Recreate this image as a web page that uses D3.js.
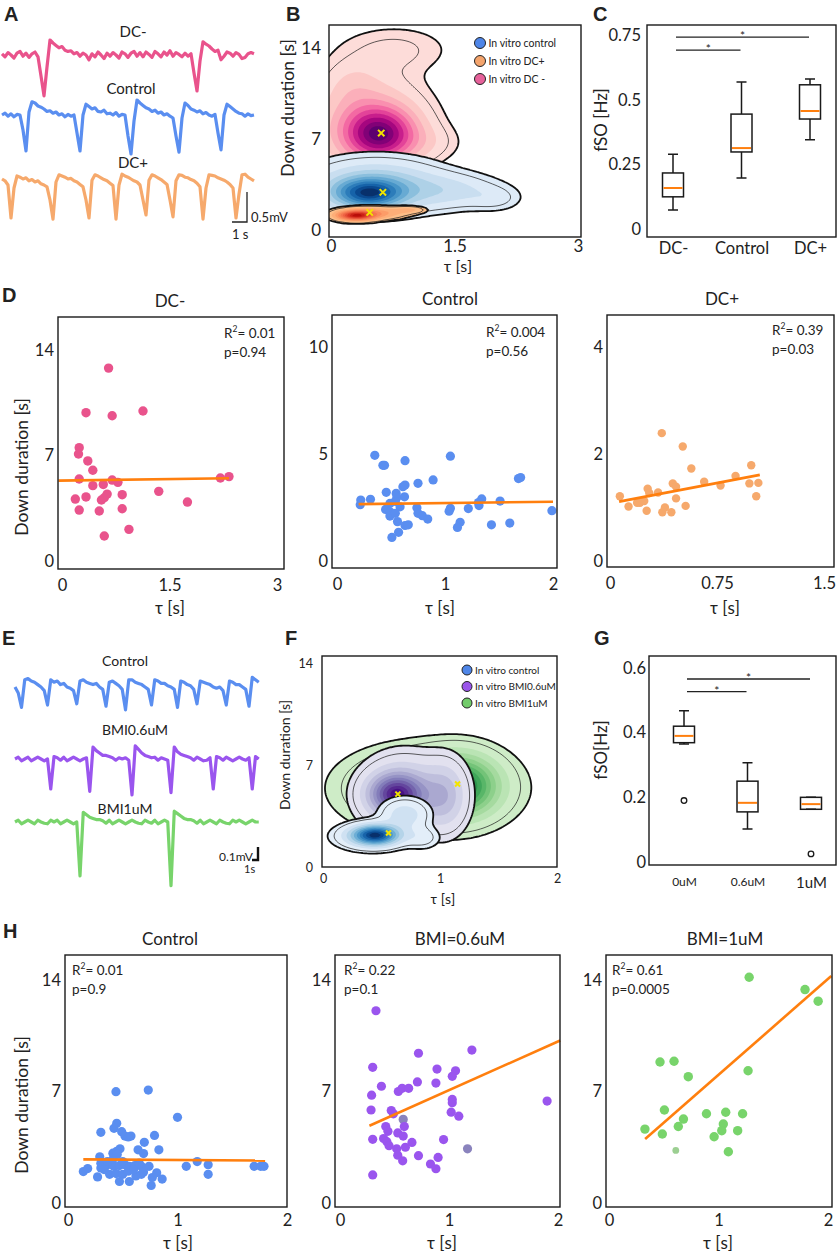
<!DOCTYPE html>
<html><head><meta charset="utf-8">
<script src="https://cdn.jsdelivr.net/npm/d3@7"></script>
<style>
body{margin:0;background:#fff}
svg text{font-family:Lato,"Open Sans",sans-serif;fill:#222}
.lett{font-family:"Liberation Sans",Arial,sans-serif;font-weight:bold;font-size:20px}
</style></head><body>
<svg id="fig" width="837" height="1252"></svg>
<script>
// ---- traces (mV, fixed sample step) ----
const aDcm = [0.02,-0.03,0.04,0,-0.05,0.03,0.06,-0.02,0.03,-0.04,0.02,0.05,-0.03,-0.35,-0.68,-0.2,0.25,0.2,0.16,0.12,0.14,0.08,0.06,0.07,0.02,0.04,-0.02,0.03,0,-0.08,0.02,-0.03,0.05,0,-0.06,0.03,-0.02,0.04,0,-0.05,0.05,0.02,-0.04,0.03,0.06,-0.02,0.04,-0.03,0.05,0.01,-0.04,0.06,0.02,-0.03,0.05,0,0.07,-0.02,0.04,0.01,-0.03,0.03,-0.02,0.02,-0.3,-0.6,-0.1,0.22,0.18,0.15,0.1,0.06,0.08,-0.08,-0.02,0.05,0.03,-0.02,0.04,0.01,-0.06,-0.04,0.02,0.04,0.02];
const aCtl = [0,0.03,-0.02,0.02,-0.03,0.01,0,-0.25,-0.6,0.05,0.22,0.2,0.15,0.13,0.1,0.06,0.07,0.03,0.05,0,0.02,-0.03,0.01,-0.02,0,-0.3,-0.6,0,0.18,0.14,0.1,0.12,0.06,0.05,0.08,0.02,0.03,0,0.04,-0.02,0.01,0,-0.35,-0.65,-0.1,0.25,0.2,0.16,0.12,0.1,0.06,0.08,0.03,0.05,0,0.02,-0.02,-0.05,-0.35,-0.62,-0.05,0.2,0.16,0.1,0.08,0.05,0.07,0.02,0.04,0,-0.02,0.01,-0.3,-0.58,0,0.18,0.14,0.1,0.06,0.03,0.02,-0.02,0.02,-0.01,0];
const aDcp = [0.05,0.02,-0.05,-0.6,-0.1,0.1,0.08,0.05,0.07,0.02,0.04,0,0.02,-0.03,-0.05,-0.08,-0.3,-0.62,0,0.12,0.1,0.08,0.05,0.06,0.02,0,-0.04,-0.08,-0.3,-0.6,0.03,0.12,0.1,0.07,0.04,0.02,-0.02,-0.06,-0.62,-0.05,0.13,0.1,0.08,0.05,0.02,0,-0.05,-0.3,-0.55,0.03,0.12,0.1,0.07,0.04,0,-0.04,-0.3,-0.58,0.02,0.12,0.11,0.08,0.07,0.04,0.02,-0.02,-0.08,-0.62,-0.1,0.12,0.11,0.1,0.07,0.05,0.03,0,-0.04,-0.1,-0.6,-0.2,0.12,0.13,0.08,0.05,0.02];
const eCtl = [0,-0.05,-0.17,0.06,0.07,0.05,0.04,0.02,0,-0.03,-0.15,0.06,0.04,0.05,0.02,0.03,0,-0.01,-0.03,-0.14,0.05,0.06,0.04,0.03,0.02,0.03,0,-0.02,-0.16,0.04,0.05,0.03,0.01,-0.02,-0.19,0.06,0.06,0.04,0.03,0.02,0,-0.02,-0.15,0.06,0.05,0.03,0.03,0.01,0,-0.02,-0.17,0.05,0.04,0.02,0.01,-0.02,-0.14,0.05,0.04,0.03,0.02,0,-0.01,0,-0.03,-0.15,0.05,0.04,0.02,0.02,0,-0.02,-0.16,0.08,0.06,0.04];
const eBmi06 = [0,0.015,-0.015,0,0.015,-0.015,0,0.015,0,-0.015,0,-0.25,0.02,0.01,-0.01,0.015,-0.015,0,0.015,0,-0.015,0,0.01,-0.27,0.1,0.07,0.05,0.03,0.03,0.02,0.01,-0.01,0.01,0,0.01,-0.01,-0.3,0.11,0.08,0.05,0.03,0.02,0.01,0.015,-0.01,0.01,0,-0.01,-0.28,0.1,0.06,0.04,0.03,0.02,0.01,-0.01,0.015,0,-0.015,-0.01,0.01,-0.25,0.02,0.01,-0.01,0.015,0,-0.015,0,0.015,0,-0.01,0.01,-0.25,0.02,0];
const eBmi1 = [0,0.015,-0.015,0,0.015,0,-0.015,0.015,0,-0.01,-0.015,0.015,0,0.015,-0.015,0,0.015,0,-0.015,0,-0.45,0.08,0.06,0.04,0.03,0.02,0.02,0.01,-0.01,0.015,-0.015,0,0.015,0,-0.015,0,0.015,0,-0.01,-0.015,0.015,0,-0.01,0.015,-0.015,0,0.015,0,-0.53,0.09,0.07,0.05,0.03,0.02,0.02,0.01,-0.01,0.015,-0.015,0,0.015,0,-0.015,0.015,0,-0.01,-0.015,0.015,0,0.015,0,-0.015,0,0.015,0,0];

// ---- D: tau [s], down duration [s] ----
const dcmPts = [[0.65,12.8],[0.335,9.84],[0.70,9.64],[1.13,9.95],[0.24,7.52],[0.23,7.1],[0.36,6.64],[0.43,6.02],[0.24,5.44],[0.43,5.0],[0.576,5.08],[0.70,5.37],[0.78,5.22],[0.186,4.11],[0.335,4.25],[0.55,4.05],[0.59,4.2],[0.63,4.44],[0.84,4.4],[0.24,3.38],[0.52,3.32],[0.84,3.47],[0.934,2.1],[0.59,1.66],[1.35,4.62],[1.75,3.91],[2.21,5.51],[2.33,5.6]];
const dcmFit = [[-0.05,5.33],[2.33,5.49]];
const ctlPts = [[0.35,4.94],[0.425,4.47],[0.44,4.47],[0.63,4.69],[1.05,4.9],[0.215,2.63],[0.22,2.85],[0.31,2.88],[0.456,3.21],[0.548,3.16],[0.554,2.97],[0.54,2.78],[0.49,2.69],[0.584,2.53],[0.45,2.41],[0.49,2.3],[0.49,2.1],[0.54,2.23],[0.56,1.84],[0.57,1.34],[0.508,1.1],[0.63,1.66],[0.66,1.69],[0.625,3.0],[0.61,3.47],[0.63,3.55],[0.75,3.63],[0.89,3.79],[0.74,2.49],[0.75,2.23],[0.79,2.12],[0.84,1.96],[1.038,2.33],[1.05,2.46],[1.14,1.81],[1.115,1.57],[1.216,2.45],[1.315,2.59],[1.34,2.9],[1.31,2.73],[1.51,2.8],[1.43,1.69],[1.6,1.77],[1.68,3.85],[1.7,3.9],[1.99,2.35]];
const ctlFit = [[0.2,2.66],[2.0,2.77]];
const dcpPts = [[0.363,2.39],[0.51,2.14],[0.57,1.73],[0.99,1.79],[0.88,1.59],[0.66,1.48],[0.775,1.41],[0.977,1.45],[1.04,1.46],[1.025,1.21],[0.069,1.21],[0.13,1.02],[0.19,1.09],[0.21,1.09],[0.24,1.12],[0.264,1.35],[0.275,1.27],[0.337,1.28],[0.257,0.94],[0.367,0.91],[0.385,1.0],[0.43,0.91],[0.44,1.45],[0.463,1.39],[0.463,1.17],[0.53,1.03]];
const dcpFit = [[0.064,1.11],[1.05,1.61]];
const dStats = [["0.01","0.94"],["0.004","0.56"],["0.39","0.03"]];

// ---- H ----
const hCtlPts = [[0.438,6.99],[0.733,7.09],[1.0,5.38],[0.445,5.0],[0.42,4.69],[0.3,4.44],[0.49,4.48],[0.52,4.2],[0.575,4.2],[0.55,4.15],[0.79,4.24],[0.697,3.81],[0.475,3.4],[0.445,3.25],[0.64,3.34],[0.69,3.1],[0.83,3.34],[0.41,3.13],[0.45,3.05],[0.29,2.9],[0.14,1.97],[0.18,2.16],[0.27,1.64],[0.3,2.2],[0.35,2.35],[0.4,2.4],[0.42,2.3],[0.47,2.35],[0.52,2.4],[0.56,2.3],[0.61,2.35],[0.67,2.3],[0.74,2.3],[0.38,1.8],[0.44,1.85],[0.5,1.8],[0.47,1.35],[0.56,1.35],[0.62,1.7],[0.67,1.8],[0.69,1.95],[0.77,1.6],[0.81,1.9],[0.76,1.1],[0.86,1.5],[1.08,2.3],[1.18,2.6],[1.28,2.4],[1.28,1.8],[1.7,2.3],[1.76,2.3],[1.79,2.3],[0.3,2.5],[0.36,2.6],[0.41,2.75],[0.33,2.1],[0.55,2.0],[0.6,2.1],[0.5,2.6],[0.65,2.5]];
const hCtlFit = [[0.14,2.74],[1.8,2.66]];
const hB06Pts = [[0.33,12.07],[0.72,9.4],[1.21,9.6],[0.30,8.52],[0.89,8.41],[1.06,8.3],[1.03,7.95],[0.88,7.53],[0.71,7.6],[0.38,7.33],[0.29,6.77],[0.535,7.0],[0.57,7.2],[0.63,7.2],[1.03,6.5],[1.03,6.3],[0.285,5.84],[0.47,5.8],[0.49,5.6],[1.02,5.7],[1.09,5.45],[0.42,4.8],[0.44,4.5],[0.59,4.8],[0.53,4.4],[0.58,4.2],[0.30,4.0],[0.40,4.05],[0.43,3.85],[0.45,3.6],[0.52,3.4],[0.6,3.5],[0.66,3.8],[0.95,3.98],[0.53,3.0],[0.575,2.65],[0.72,2.97],[0.9,2.86],[0.83,2.45],[0.88,2.15],[0.30,1.76],[1.9,6.4]];
const hB06Grey = [[0.58,5.25],[1.17,3.4]];
const hB06Fit = [[0.27,4.85],[2.02,10.2]];
const hB1Pts = [[1.28,14.17],[1.79,13.4],[1.91,12.67],[0.466,8.85],[0.594,8.9],[0.724,7.93],[1.27,8.3],[0.506,5.84],[0.68,5.27],[0.633,4.8],[0.89,5.6],[1.066,5.7],[1.22,5.6],[1.044,4.96],[1.03,4.54],[1.175,4.54],[0.96,4.16],[1.09,3.22],[0.328,4.64],[0.487,4.33]];
const hB1Faint = [[0.61,3.3]];
const hB1Fit = [[0.33,4.02],[2.03,14.25]];
const hStats = [["0.01","0.9"],["0.22","0.1"],["0.61","0.0005"]];

// ---- box plots ----
const cCats = ["DC-","Control","DC+"];
const cLo = [0.075,0.199,0.346], cQ1 = [0.126,0.299,0.426], cMed = [0.16,0.314,0.457], cQ3 = [0.218,0.445,0.558], cHi = [0.29,0.569,0.58];
const cSig = [["DC-","Control",0.692],["DC-","DC+",0.742]];
const gCats = ["0uM","0.6uM","1uM"];
const gLo = [0.365,0.102,0.163], gQ1 = [0.369,0.155,0.163], gMed = [0.39,0.183,0.179], gQ3 = [0.42,0.25,0.2], gHi = [0.468,0.307,0.2];
const gOut = [["0uM",0.19],["1uM",0.025]];
const gSig = [["0uM","0.6uM",0.527],["0uM","1uM",0.566]];

// ---- density blobs: [tau, dur, sdTau, sdDur, weight] ----
const bDcmBlobs = [[0.6,7.3,0.3,1.4,1],[0.45,8.3,0.42,2.3,0.45],[0.78,13.9,0.42,1.15,0.13],[0.25,11.3,0.22,1.3,0.12],[1.2,6.7,0.25,0.9,0.1]];
const bCtlBlobs = [[0.45,2.8,0.28,0.75,1],[0.55,3.4,0.5,1.25,0.55],[1.45,3.0,0.4,0.85,0.25],[2.0,2.4,0.2,0.6,0.12]];
const bDcpBlobs = [[0.3,1.1,0.15,0.25,1],[0.5,1.3,0.25,0.3,0.4],[0.95,1.55,0.13,0.18,0.2]];
const fB1Blobs = [[1.18,5.6,0.2,1.3,1],[0.88,5.4,0.4,1.6,0.6]];
const fB06Blobs = [[0.62,5.0,0.15,0.9,1],[0.7,5.0,0.22,1.6,0.5],[1.05,4.9,0.12,1.5,0.4]];
const fCtlBlobs = [[0.45,2.2,0.13,0.45,1],[0.4,2.1,0.18,0.55,0.35],[0.7,3.6,0.13,0.7,0.3],[0.85,2.0,0.1,0.5,0.15]];
const bMarks = [[0.61,7.46],[0.63,2.9],[0.47,1.35]];
const fMarks = [[1.15,5.7],[0.64,5.0],[0.56,2.33]];
const kdeLevels = [0.04,0.08,0.16,0.26,0.36,0.46,0.56,0.66,0.76,0.86,0.94];

const col = {dcm:"#e9538c", ctl:"#5a8ef0", dcp:"#f6a96c", b06:"#9a55ee", b1:"#78d46b", fit:"#ff7f0e"};
const fam = "Lato, 'Open Sans', sans-serif";

const svg = d3.select("#fig");
svg.append("rect").attr("width",837).attr("height",1252).attr("fill","#fff");

function txt(x, y, s, size, anchor = "middle", g = svg) {
  return g.append("text").attr("x", x).attr("y", y).attr("font-size", size).attr("text-anchor", anchor).text(s);
}
function vtxt(x, y, s, size) {
  return svg.append("text").attr("transform", `translate(${x},${y}) rotate(-90)`)
    .attr("font-size", size).attr("text-anchor", "middle").text(s);
}
function frame(g, f) {
  g.append("rect").attr("x", f.l).attr("y", f.t).attr("width", f.r - f.l).attr("height", f.b - f.t)
    .attr("fill", "none").attr("stroke", "#1a1a1a").attr("stroke-width", 1.4);
}
function axes(g, xs, ys, f, xt, yt, fs, xpad, ypad) {
  const ax = g.append("g").attr("transform", `translate(0,${f.b})`)
    .call(d3.axisBottom(xs).tickValues(xt).tickSize(0).tickPadding(xpad).tickFormat(d => d));
  const ay = g.append("g").attr("transform", `translate(${f.l},0)`)
    .call(d3.axisLeft(ys).tickValues(yt).tickSize(0).tickPadding(ypad).tickFormat(d => d));
  [ax, ay].forEach(a => {
    a.select(".domain").remove();
    a.attr("font-size", fs).attr("font-family", fam).attr("color", "#222");
  });
  return ax;
}

// ---------- traces ----------
function trace(vals, dt, x0, pxPerS, yBase, pxPerMv, color) {
  const xs = d3.scaleLinear().domain([0, 1]).range([x0, x0 + pxPerS]);
  const ys = d3.scaleLinear().domain([0, 1]).range([yBase, yBase - pxPerMv]);
  svg.append("path").datum(vals)
    .attr("d", d3.line().x((d, i) => xs(i * dt)).y(d => ys(d)))
    .attr("fill", "none").attr("stroke", color).attr("stroke-width", 3.2)
    .attr("stroke-linejoin", "round");
}
trace(aDcm, 0.2, 2, 15, 55, 60, col.dcm);
trace(aCtl, 0.2, 2, 15, 115, 60, col.ctl);
trace(aDcp, 0.2, 2, 15, 182, 60, col.dcp);
txt(133, 37, "DC-", 15); txt(131, 94, "Control", 15); txt(133, 168, "DC+", 15);
svg.append("path").attr("d", "M232,222H247V192").attr("fill", "none").attr("stroke", "#222").attr("stroke-width", 1.3);
txt(251, 222, "0.5mV", 13, "start"); txt(232, 239, "1 s", 13, "start");

trace(eCtl, 0.5, 15, 6.5, 687, 120, col.ctl);
trace(eBmi06, 0.5, 15, 6.5, 759, 120, col.b06);
trace(eBmi1, 0.5, 15, 6.5, 822, 120, col.b1);
txt(125, 666, "Control", 14); txt(135, 735, "BMI0.6uM", 14); txt(125, 814, "BMI1uM", 14);
svg.append("path").attr("d", "M252,860H258V847").attr("fill", "none").attr("stroke", "#111").attr("stroke-width", 2.4);
txt(219, 861, "0.1mV", 12, "start"); txt(244, 873, "1s", 11, "start");

// ---------- densities ----------
function densityLayer(g, f, xs, ys, blobs, interp, t0, t1) {
  const step = 2, pad = 12;
  const X0 = f.l - pad, Y0 = f.t - pad;
  const n = Math.ceil((f.r - f.l + 2 * pad) / step), m = Math.ceil((f.b - f.t + 2 * pad) / step);
  const vals = new Array(n * m);
  for (let j = 0; j < m; j++) for (let i = 0; i < n; i++) {
    const tau = xs.invert(X0 + (i + 0.5) * step), dur = ys.invert(Y0 + (j + 0.5) * step);
    let s = 0;
    blobs.forEach(b => { s += b[4] * Math.exp(-0.5 * (((tau - b[0]) / b[2]) ** 2 + ((dur - b[1]) / b[3]) ** 2)); });
    vals[j * n + i] = s;
  }
  const mx = d3.max(vals);
  const cs = d3.contours().size([n, m]).thresholds(kdeLevels)(vals.map(v => v / mx));
  const path = d3.geoPath(d3.geoTransform({ point(x, y) { this.stream.point(X0 + x * step, Y0 + y * step); } }));
  const L = kdeLevels.length;
  g.selectAll(null).data(cs).join("path").attr("d", path)
    .attr("fill", (d, k) => interp(k < 2 ? t0 : t0 + (t1 - t0) * (k - 1) / (L - 2)));
  g.append("path").datum(cs[1]).attr("d", path).attr("fill", "none").attr("stroke", "#1a1a1a").attr("stroke-width", 0.7);
  g.append("path").datum(cs[0]).attr("d", path).attr("fill", "none").attr("stroke", "#111").attr("stroke-width", 1.8);
}
function legend(x, y, dy, items, fs, r) {
  items.forEach((it, i) => {
    svg.append("circle").attr("cx", x).attr("cy", y + i * dy).attr("r", r).attr("fill", it[1]).attr("stroke", "#222").attr("stroke-width", 1);
    txt(x + r + 3, y + i * dy + fs * 0.36, it[0], fs, "start");
  });
}
function densityPanel(o) {
  const g = svg.append("g");
  const xs = d3.scaleLinear().domain([0, o.xt[o.xt.length - 1]]).range(o.xr);
  const ys = d3.scaleLinear().domain([0, o.yt[o.yt.length - 1]]).range(o.yr);
  svg.append("clipPath").attr("id", o.id).append("rect")
    .attr("x", o.f.l).attr("y", o.f.t).attr("width", o.f.r - o.f.l).attr("height", o.f.b - o.f.t);
  const inner = g.append("g").attr("clip-path", `url(#${o.id})`);
  o.layers.forEach(L => densityLayer(inner.append("g"), o.f, xs, ys, L[0], L[1], L[2], L[3]));
  inner.selectAll(null).data(o.marks).join("path")
    .attr("transform", d => `translate(${xs(d[0])},${ys(d[1])})`)
    .attr("d", d3.symbol().type(d3.symbolX).size(o.mark))
    .attr("fill", "none").attr("stroke", "#f3e500").attr("stroke-width", 2);
  axes(g, xs, ys, o.f, o.xt, o.yt, o.fs, o.xpad, o.ypad);
  frame(g, o.f);
}
densityPanel({id: "clipB", f: {l: 329, t: 25, r: 581, b: 237}, xr: [331, 578], yr: [230, 48],
  xt: [0, 1.5, 3], yt: [0, 7, 14], fs: 17, xpad: 3, ypad: 8, mark: 28,
  layers: [[bDcmBlobs, d3.interpolateRdPu, 0.14, 0.95], [bCtlBlobs, d3.interpolateBlues, 0.13, 1.0], [bDcpBlobs, d3.interpolateOrRd, 0.35, 0.85]],
  marks: bMarks});
legend(480, 43, 18, [["In vitro control", "#4f86e8"], ["In vitro DC+", "#f4a46c"], ["In vitro DC -", "#e6619a"]], 10.5, 5.5);
vtxt(294, 108, "Down duration [s]", 17.5);
txt(458, 272, "τ [s]", 16);

densityPanel({id: "clipF", f: {l: 322, t: 656, r: 557, b: 867}, xr: [323, 557], yr: [867, 663],
  xt: [0, 1, 2], yt: [0, 7, 14], fs: 12.5, xpad: 7.5, ypad: 9, mark: 18,
  layers: [[fB1Blobs, d3.interpolateGreens, 0.22, 0.85], [fB06Blobs, d3.interpolatePurples, 0.2, 0.95], [fCtlBlobs, d3.interpolateBlues, 0.1, 1.0]],
  marks: fMarks});
legend(467, 670, 16.5, [["In vitro control", "#4f86e8"], ["In vitro BMI0.6uM", "#9a55ea"], ["In vitro BMI1uM", "#72cc6a"]], 10, 5);
vtxt(290, 755, "Down duration [s]", 14);
txt(443, 904, "τ [s]", 14);

// ---------- box plots ----------
function boxPanel(o) {
  const g = svg.append("g");
  const xs = d3.scalePoint().domain(o.cats).range(o.xr);
  const ys = d3.scaleLinear().domain(o.yd).range(o.yr);
  const ax = axes(g, xs, ys, o.f, o.cats, o.yt, 16.5, o.xpad, o.ypad);
  if (o.catSize) ax.selectAll("text").attr("font-size", d => o.catSize(d));
  const rows = o.cats.map((c, i) => ({c, lo: o.lo[i], q1: o.q1[i], med: o.med[i], q3: o.q3[i], hi: o.hi[i]}));
  const bw = 21, cw = 5;
  const bx = g.selectAll(null).data(rows).join("g").attr("stroke", "#1a1a1a").attr("stroke-width", 1.5).attr("fill", "none");
  bx.append("path").attr("d", d => `M${xs(d.c)},${ys(d.lo)}V${ys(d.q1)}M${xs(d.c)},${ys(d.q3)}V${ys(d.hi)}` +
    `M${xs(d.c) - cw},${ys(d.lo)}H${xs(d.c) + cw}M${xs(d.c) - cw},${ys(d.hi)}H${xs(d.c) + cw}`);
  bx.append("rect").attr("x", d => xs(d.c) - bw / 2).attr("width", bw)
    .attr("y", d => ys(d.q3)).attr("height", d => ys(d.q1) - ys(d.q3));
  bx.append("line").attr("x1", d => xs(d.c) - bw / 2 + 1).attr("x2", d => xs(d.c) + bw / 2 - 1)
    .attr("y1", d => ys(d.med)).attr("y2", d => ys(d.med)).attr("stroke", col.fit).attr("stroke-width", 2);
  g.selectAll(null).data(o.out || []).join("circle").attr("cx", d => xs(d[0])).attr("cy", d => ys(d[1]))
    .attr("r", 2.8).attr("fill", "none").attr("stroke", "#1a1a1a").attr("stroke-width", 1.3);
  o.sig.forEach(s => {
    const x1 = xs(s[0]) + 3, x2 = xs(s[1]) - 1, y = ys(s[2]);
    g.append("line").attr("x1", x1).attr("x2", x2).attr("y1", y).attr("y2", y).attr("stroke", "#222").attr("stroke-width", 1.3);
    txt((x1 + x2) / 2, y + 3, "*", 12, "middle", g);
  });
  frame(g, o.f);
}
boxPanel({f: {l: 647, t: 25, r: 836, b: 237}, cats: cCats, xr: [673, 810], yd: [0, 0.75], yr: [229.5, 35],
  yt: [0, 0.25, 0.5, 0.75], xpad: 5.5, ypad: 6, lo: cLo, q1: cQ1, med: cMed, q3: cQ3, hi: cHi, sig: cSig});
vtxt(607, 120, "fSO [Hz]", 17);
boxPanel({f: {l: 649, t: 656, r: 836, b: 865}, cats: gCats, xr: [684, 811], yd: [0, 0.6], yr: [862, 668],
  yt: [0, 0.2, 0.4, 0.6], xpad: 12, ypad: 3, lo: gLo, q1: gQ1, med: gMed, q3: gQ3, hi: gHi, out: gOut, sig: gSig,
  catSize: d => d === "1uM" ? 15 : 12});
vtxt(607, 750, "fSO[Hz]", 17);

// ---------- scatter plots ----------
function stats(g, x, y, s) {
  const t = g.append("text").attr("x", x).attr("y", y).attr("font-size", 13.5);
  t.append("tspan").text("R");
  t.append("tspan").attr("dy", -6).attr("font-size", 8.5).text("2");
  t.append("tspan").attr("dy", 6).text("= " + s[0]);
  g.append("text").attr("x", x).attr("y", y + 19).attr("font-size", 13.5).text("p=" + s[1]);
}
function scatter(o) {
  const g = svg.append("g");
  const xs = d3.scaleLinear().domain([0, o.xt[o.xt.length - 1]]).range(o.xr);
  const ys = d3.scaleLinear().domain([0, o.yt[o.yt.length - 1]]).range(o.yr);
  axes(g, xs, ys, o.f, o.xt, o.yt, 16.5, o.xpad, 4);
  (o.extra || []).concat([[o.pts, o.color, o.r]]).forEach(set => {
    g.selectAll(null).data(set[0]).join("circle").attr("cx", d => xs(d[0])).attr("cy", d => ys(d[1]))
      .attr("r", set[2]).attr("fill", set[1]);
  });
  g.append("path").datum(o.fit).attr("d", d3.line().x(d => xs(d[0])).y(d => ys(d[1])))
    .attr("fill", "none").attr("stroke", col.fit).attr("stroke-width", 2.6);
  frame(g, o.f);
  txt(o.tx, o.f.t - 10, o.title, 17);
  stats(g, o.sx, o.sy, o.stats);
  txt(o.lx, o.ly, "τ [s]", 17);
}
scatter({f: {l: 58, t: 317, r: 284, b: 569}, xr: [62, 277], yr: [561, 350], xt: [0, 1.5, 3], yt: [0, 7, 14], xpad: 10,
  pts: dcmPts, color: col.dcm, r: 4.7, fit: dcmFit, title: "DC-", tx: 170, stats: dStats[0], sx: 224, sy: 338, lx: 170, ly: 614});
scatter({f: {l: 332, t: 315, r: 557, b: 568}, xr: [337, 553], yr: [561, 347], xt: [0, 1, 2], yt: [0, 5, 10], xpad: 10,
  pts: ctlPts, color: col.ctl, r: 4.6, fit: ctlFit, title: "Control", tx: 450, stats: dStats[1], sx: 486, sy: 337, lx: 440, ly: 614});
scatter({f: {l: 607, t: 315, r: 834, b: 567}, xr: [610, 824], yr: [561, 347], xt: [0, 0.75, 1.5], yt: [0, 2, 4], xpad: 10,
  pts: dcpPts, color: col.dcp, r: 4.2, fit: dcpFit, title: "DC+", tx: 722, stats: dStats[2], sx: 772, sy: 335, lx: 725, ly: 614});
vtxt(28, 467, "Down duration [s]", 17.5);

scatter({f: {l: 65, t: 955, r: 287, b: 1207}, xr: [68, 287], yr: [1203, 980], xt: [0, 1, 2], yt: [0, 7, 14], xpad: 7,
  pts: hCtlPts, color: col.ctl, r: 4.6, fit: hCtlFit, title: "Control", tx: 170, stats: hStats[0], sx: 72, sy: 975, lx: 178, ly: 1249});
scatter({f: {l: 335, t: 955, r: 560, b: 1207}, xr: [340, 558], yr: [1203, 980], xt: [0, 1, 2], yt: [0, 7, 14], xpad: 7,
  pts: hB06Pts, color: col.b06, r: 4.6, extra: [[hB06Grey, "#8a83bd", 4.6]], fit: hB06Fit, title: "BMI=0.6uM", tx: 460,
  stats: hStats[1], sx: 344, sy: 975, lx: 442, ly: 1249});
scatter({f: {l: 606, t: 955, r: 832, b: 1207}, xr: [609, 828], yr: [1203, 980], xt: [0, 1, 2], yt: [0, 7, 14], xpad: 7,
  pts: hB1Pts, color: col.b1, r: 4.7, extra: [[hB1Faint, "#9ccf92", 3.4]], fit: hB1Fit, title: "BMI=1uM", tx: 725,
  stats: hStats[2], sx: 612, sy: 975, lx: 718, ly: 1249});
vtxt(28, 1105, "Down duration [s]", 17.5);

// ---------- panel letters ----------
[["A", 4, 21], ["B", 286, 21], ["C", 593, 21], ["D", 2, 302], ["E", 2, 645], ["F", 285, 645], ["G", 594, 645], ["H", 3, 938]]
  .forEach(l => svg.append("text").attr("class", "lett").attr("x", l[1]).attr("y", l[2]).text(l[0]));
</script></body></html>
